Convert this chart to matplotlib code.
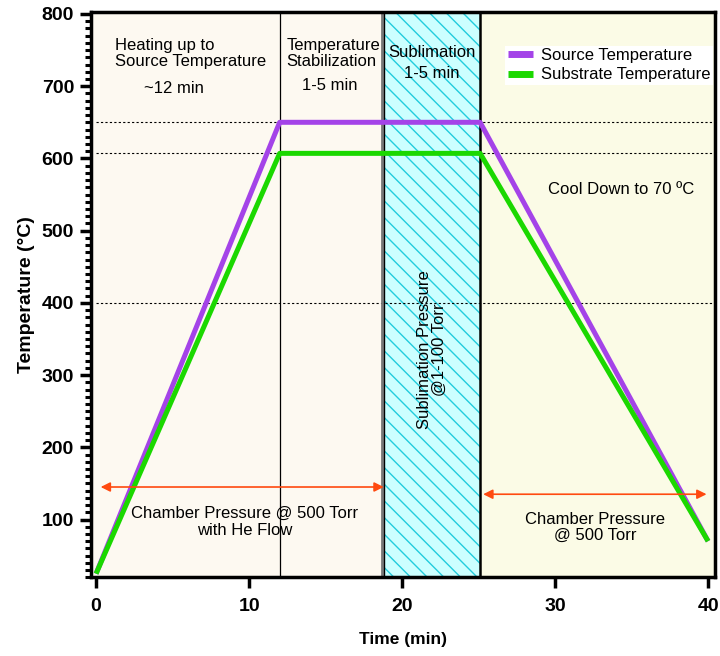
import matplotlib

matplotlib.use("Agg")
import matplotlib.pyplot as plt  # noqa: E402
from matplotlib.ticker import MultipleLocator  # noqa: E402

plt.rcParams["font.family"] = ["Liberation Sans", "DejaVu Sans"]
plt.rcParams["hatch.linewidth"] = 1.0

# temperature profiles (time in min, temperature in degC)
source_t = [0, 12.0, 25.1, 40]
source_T = [25, 650, 650, 70]
substrate_t = [0, 12.0, 25.1, 40]
substrate_T = [25, 607, 607, 70]

# phase boundaries (min)
stab_start = 12.0
subl_start = 18.8
subl_end = 25.1

# reference levels (dotted)
ref_levels = [650, 607, 400]

# pressure arrows: (x0, x1, y)
arrow_left = (0.3, 18.8, 145)
arrow_right = (25.3, 39.9, 135)

fig = plt.figure(figsize=(7.2, 6.56), dpi=100)
ax = fig.add_axes([0.126, 0.12, 0.867, 0.862])
ax.set_xlim(-0.35, 40.45)
ax.set_ylim(20, 803)

ax.set_facecolor("#fdf9f1")
ax.axvspan(subl_end, 40.45, color="#fbfbe6", zorder=0)
ax.axvspan(subl_start, subl_end, facecolor="#ccffff", edgecolor="#22ccdd",
           hatch="\\\\", lw=0, zorder=0.5)

for lvl in ref_levels:
    ax.plot([0, 40.45], [lvl, lvl], ls=(0, (2, 2)), color="black", lw=0.8, zorder=1)

ax.axvline(stab_start, color="black", lw=0.9, zorder=1)
ax.axvline(subl_start - 0.1, color="#777777", lw=2.0, zorder=1)
ax.axvline(subl_start + 0.05, color="black", lw=1.0, zorder=1)
ax.axvline(subl_end, color="black", lw=1.8, zorder=1)

ax.plot(source_t, source_T, color="#a443e8", lw=3.6, solid_capstyle="butt",
        label="Source Temperature", zorder=3)
ax.plot(substrate_t, substrate_T, color="#1bd800", lw=3.6, solid_capstyle="butt",
        label="Substrate Temperature", zorder=4)

for x0, x1, y in (arrow_left, arrow_right):
    ax.annotate("", xy=(x1, y), xytext=(x0, y),
                arrowprops=dict(arrowstyle="<|-|>", color="#ff4a10", lw=1.2,
                                mutation_scale=14, shrinkA=0, shrinkB=0), zorder=5)

fs = 12
ax.text(1.25, 745, "Heating up to\nSource Temperature", fontsize=fs, va="center",
        ha="left", linespacing=1.1)
ax.text(3.1, 697, "~12 min", fontsize=fs, va="center", ha="left")
ax.text(12.45, 745, "Temperature\nStabilization", fontsize=fs, va="center",
        ha="left", linespacing=1.1)
ax.text(15.3, 701, "1-5 min", fontsize=fs, va="center", ha="center")
ax.text(21.95, 732, "Sublimation\n1-5 min", fontsize=fs, va="center", ha="center",
        linespacing=1.5)
ax.text(34.3, 557, "Cool Down to 70 ºC", fontsize=fs, va="center", ha="center")
ax.text(21.95, 335, "Sublimation Pressure\n@1-100 Torr", fontsize=fs, rotation=90,
        va="center", ha="center", linespacing=1.0)
ax.text(9.7, 97, "Chamber Pressure @ 500 Torr\nwith He Flow", fontsize=fs,
        va="center", ha="center", linespacing=1.2)
ax.text(32.6, 89, "Chamber Pressure\n@ 500 Torr", fontsize=fs, va="center",
        ha="center", linespacing=1.15)

leg = ax.legend(loc="upper right", bbox_to_anchor=(0.997, 0.94), fontsize=fs,
                frameon=True, framealpha=1, edgecolor="none", fancybox=False,
                handlelength=1.5, handletextpad=0.5, labelspacing=0.25,
                borderpad=0.15, borderaxespad=0)
for ln in leg.get_lines():
    ln.set_linewidth(5)

ax.xaxis.set_major_locator(MultipleLocator(10))
ax.yaxis.set_major_locator(MultipleLocator(100))
ax.yaxis.set_minor_locator(MultipleLocator(10))
ax.tick_params(axis="both", which="major", direction="out", length=8, width=2.5,
               labelsize=14, pad=4)
ax.tick_params(axis="x", which="major", pad=7)
ax.tick_params(axis="y", which="minor", direction="out", length=4, width=2.2)
for lab in ax.get_xticklabels() + ax.get_yticklabels():
    lab.set_fontweight("bold")
for s in ax.spines.values():
    s.set_linewidth(2.5)

ax.set_xlabel("Time (min)", fontsize=12.5, fontweight="bold", labelpad=12)
ax.set_ylabel("Temperature (°C)", fontsize=14, fontweight="bold", labelpad=5)

fig.savefig("out.png", dpi=100)
